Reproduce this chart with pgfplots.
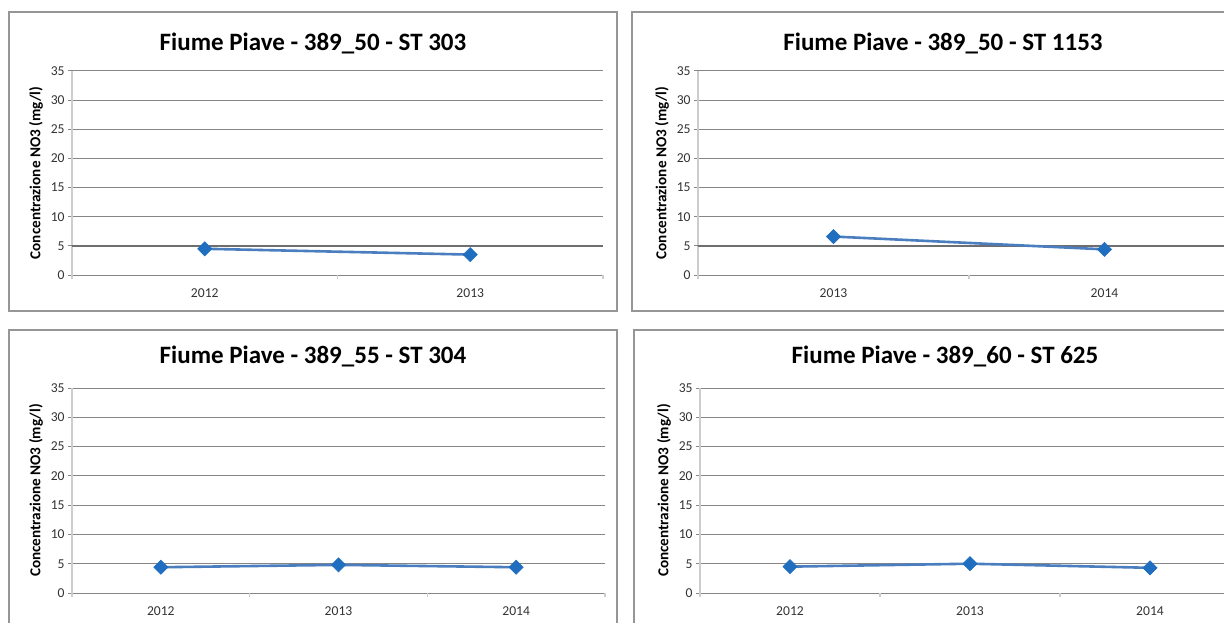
\documentclass[border=0pt]{standalone}
\usepackage{fontspec}
\setmainfont{Carlito}
\usepackage{pgfplots}
\pgfplotsset{compat=1.18}
\definecolor{gridc}{RGB}{134,134,134}
\definecolor{gridd}{RGB}{110,110,110}
\definecolor{linec}{RGB}{74,126,190}
\definecolor{markc}{RGB}{31,110,192}
\definecolor{axc}{RGB}{205,205,205}
\definecolor{boxc}{RGB}{150,150,150}
\pgfplotsset{
  panel/.style={
    scale only axis,
    ymin=0, ymax=35, ytick={0,5,...,35},
    axis lines*=left,
    x axis line style={draw=none},
    y axis line style={draw=axc, line width=0.6pt, shorten <=-2pt, -},
    ymajorgrids, grid style={draw=gridc, line width=0.5pt},
    tick align=outside,
    major tick length=2pt, minor tick length=2pt,
    ytick style={draw=gridc, line width=0.5pt},
    major x tick style={draw=none},
    minor x tick style={draw=axc, line width=0.6pt},
    tick label style={font=\fontsize{6.8}{8}\selectfont, text=black!80},
    yticklabel style={inner sep=0pt, xshift=-1.5pt},
    xticklabel style={inner sep=0pt, yshift=-4.5pt},
    /pgf/number format/assume math mode=true,
    ylabel={Concentrazione NO3 (mg/l)},
    every axis y label/.style={at={(axis description cs:0,0.5)}, xshift=-18pt, rotate=90, anchor=center, font=\fontsize{7.6}{9}\bfseries\selectfont},
  },
  dark5/.style={extra y ticks={5}, extra y tick labels={}, extra y tick style={grid style={draw=gridd, line width=1pt}}},
  ser/.style={color=linec, line width=1.3pt, mark=square*, mark size=2.5pt, mark options={rotate=45, fill=markc, draw=markc, line width=0.3pt}},
}
\begin{document}
\begin{tikzpicture}
\useasboundingbox (0,0) rectangle (612pt,311pt);
\clip (0,0) rectangle (612pt,311pt);
\draw[boxc, line width=0.6pt] (4.5pt,155.5pt) rectangle (308.5pt,305pt);
\draw[boxc, line width=0.6pt] (316pt,155.5pt) rectangle (630pt,305pt);
\draw[boxc, line width=0.6pt] (4.5pt,-10pt) rectangle (308.5pt,146pt);
\draw[boxc, line width=0.6pt] (317pt,-10pt) rectangle (630pt,146pt);
\node[font=\fontsize{12.5}{15}\bfseries\selectfont] at (156.5pt,289.5pt) {Fiume Piave - 389\_50 - ST 303};
\node[font=\fontsize{12.5}{15}\bfseries\selectfont] at (471.5pt,289.5pt) {Fiume Piave - 389\_50 - ST 1153};
\node[font=\fontsize{12.5}{15}\bfseries\selectfont] at (156.5pt,133pt) {Fiume Piave - 389\_55 - ST 304};
\node[font=\fontsize{12.5}{15}\bfseries\selectfont] at (472.5pt,133pt) {Fiume Piave - 389\_60 - ST 625};

\begin{axis}[panel, dark5, at={(36pt,173.5pt)}, anchor=south west, width=265.5pt, height=102pt,
  xmin=0.5, xmax=2.5, xtick={1,2}, xticklabels={2012,2013}, minor xtick={1.5,2.5}]
\addplot[ser] coordinates {(1,4.5) (2,3.5)};
\end{axis}

\begin{axis}[panel, dark5, at={(349pt,173.5pt)}, anchor=south west, width=271pt, height=102pt,
  xmin=0.5, xmax=2.5, xtick={1,2}, xticklabels={2013,2014}, minor xtick={1.5,2.5}]
\addplot[ser] coordinates {(1,6.6) (2,4.4)};
\end{axis}

\begin{axis}[panel, at={(36pt,14.5pt)}, anchor=south west, width=266.5pt, height=102.5pt,
  xmin=0.5, xmax=3.5, xtick={1,2,3}, xticklabels={2012,2013,2014}, minor xtick={1.5,2.5,3.5}]
\addplot[ser] coordinates {(1,4.4) (2,4.8) (3,4.4)};
\end{axis}

\begin{axis}[panel, at={(350pt,14.5pt)}, anchor=south west, width=270pt, height=102.5pt,
  xmin=0.5, xmax=3.5, xtick={1,2,3}, xticklabels={2012,2013,2014}, minor xtick={1.5,2.5,3.5}]
\addplot[ser] coordinates {(1,4.5) (2,5.0) (3,4.3)};
\end{axis}
\end{tikzpicture}
\end{document}
